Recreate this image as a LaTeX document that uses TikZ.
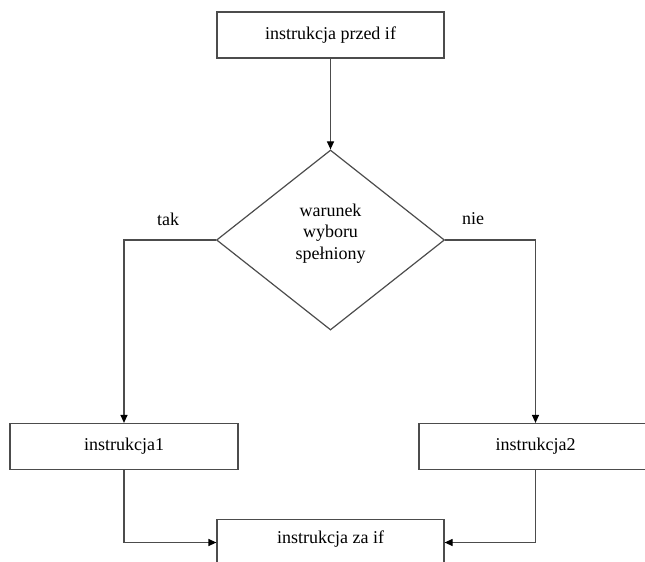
\documentclass[tikz,border=0pt]{standalone}
\usepackage{fontspec}
\setmainfont{Liberation Serif}
\usetikzlibrary{arrows.meta,shapes.geometric,calc}
\begin{document}
\begin{tikzpicture}[x=1pt,y=-1pt,
  txt/.style={font=\fontsize{18}{21.5}\selectfont},
  box/.style={txt, draw=black!70, line width=1.2pt, rectangle, inner sep=0pt, minimum height=46pt},
  dec/.style={draw=black!70, line width=1.2pt, diamond, inner sep=0pt, minimum width=228pt, minimum height=180pt},
  lbl/.style={txt, inner sep=0pt},
  conn/.style={draw=black!70, line width=1.2pt, -{Triangle[length=8pt,width=7pt,fill=black,color=black]}}]
\useasboundingbox (0,0) rectangle (645,562);
\clip (0,0) rectangle (645,562);

\node[box, minimum width=227pt] (top) at (330.5,35) {instrukcja przed if};
\node[dec] (d) at (330.5,240) {};
\node[lbl, align=center] (dt) at (330.5,233.5) {warunek\\wyboru\\spełniony};
\node[lbl] (tak) at (168,219) {tak};
\node[lbl] (nie) at (473,219) {nie};
\node[box, minimum width=228pt] (in1) at (124,446.5) {instrukcja1};
\node[box, minimum width=233pt] (in2) at (535.5,446.5) {instrukcja2};
\node[box, minimum width=227pt, anchor=north, inner ysep=11pt, text height=13pt, text depth=60pt] (bot) at (330.5,518.5) {instrukcja za if};

\coordinate (bl) at ($(bot.north west)+(0,24)$);
\coordinate (br) at ($(bot.north east)+(0,24)$);

\draw[conn] (top) -- (d);
\draw[conn] (d.west) -| (in1.north);
\draw[conn] (d.east) -| (in2.north);
\draw[conn] (in1.south) |- (bl);
\draw[conn] (in2.south) |- (br);
\end{tikzpicture}
\end{document}
